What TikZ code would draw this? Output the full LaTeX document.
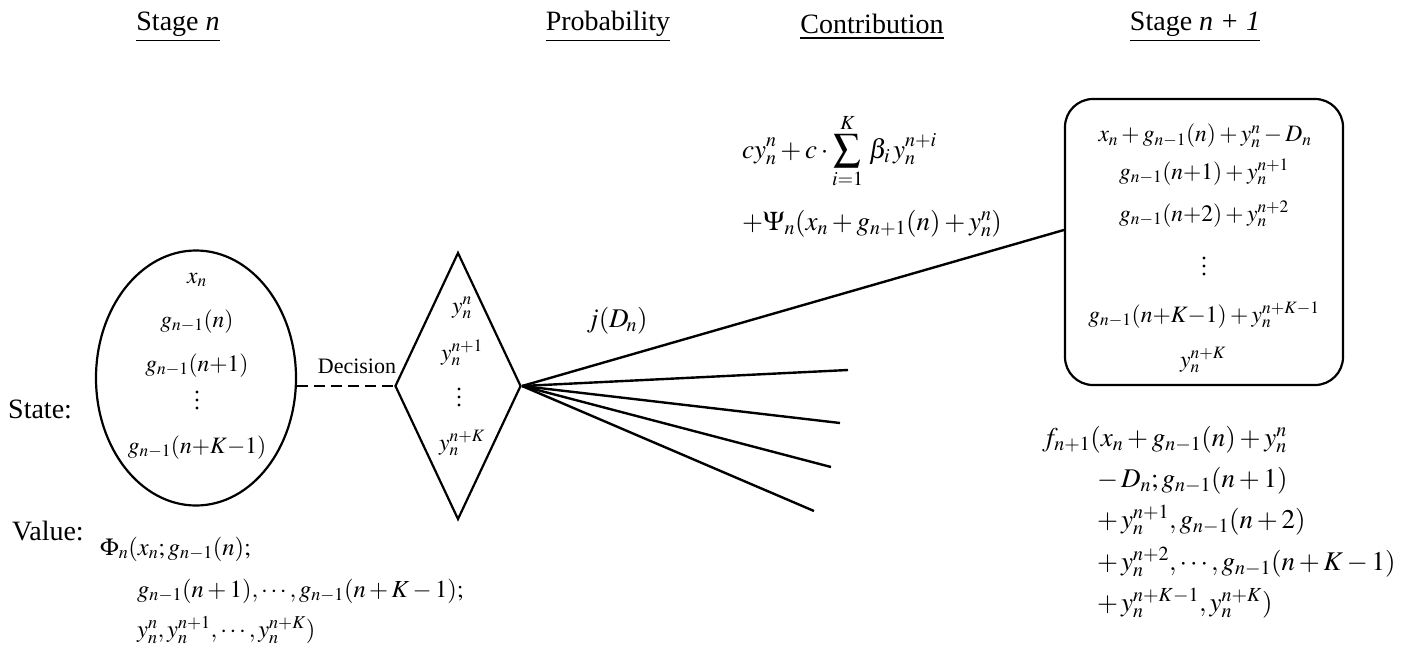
\documentclass[tikz,border=0pt]{standalone}
\usepackage{mathptmx}
\usepackage[no-math]{fontspec}
\setmainfont{Liberation Serif}
\usetikzlibrary{shapes.geometric}
\begin{document}
\begin{tikzpicture}[x=1pt,y=-1pt,
  txt/.style={font=\fontsize{28}{32}\selectfont, inner sep=0pt},
  small/.style={font=\fontsize{22}{26}\selectfont, inner sep=0pt},
  mth/.style={font=\fontsize{23.5}{27}\selectfont, inner sep=0pt},
  mthv/.style={font=\fontsize{24.5}{28}\selectfont, inner sep=0pt},
  mthb/.style={font=\fontsize{27}{31}\selectfont, inner sep=0pt},
  vd/.style={inner sep=0pt, minimum size=0pt},
  shp/.style={draw, line width=2.2pt},
  fan/.style={draw, line width=2.4pt}]
\useasboundingbox (0,0) rectangle (1415,658);
% headings
\node[txt] (h1) at (178,27) {\underline{Stage \textit{n}}};
\node[txt] (h2) at (608,27) {\underline{Probability}};
\node[txt] (h3) at (872,27) {\underline{Contribution}};
\node[txt] (h4) at (1195,27) {\underline{Stage \textit{n + 1}}};
% left labels
\node[txt, anchor=base west] (st) at (8,418) {State:};
\node[txt, anchor=base west] (va) at (12,540) {Value:};
% shapes
\node[shp, ellipse, minimum width=200pt, minimum height=255pt, inner sep=0pt] (ell) at (196,378) {};
\node[shp, diamond, minimum width=126pt, minimum height=267pt, inner sep=0pt] (dia) at (458,386) {};
\node[shp, rounded corners=28pt, minimum width=278pt, minimum height=286pt] (box) at (1204,242) {};
% ellipse contents
\node[mth, anchor=base] (e1) at (197,283) {$x_n$};
\node[mth, anchor=base] (e2) at (197,327) {$g_{n-1}(n)$};
\node[mth, anchor=base] (e3) at (197,371) {$g_{n-1}(n{+}1)$};
\node[vd] (e4) at (197,400) {};
\node[mth, anchor=base] (e5) at (197,453) {$g_{n-1}(n{+}K{-}1)$};
% diamond contents
\node[mth, anchor=base] (d1) at (462,313) {$y_n^n$};
\node[mth, anchor=base] (d2) at (462,360) {$y_n^{n+1}$};
\node[vd] (d3) at (459,397) {};
\node[mth, anchor=base] (d4) at (462,450) {$y_n^{n+K}$};
% box contents
\node[mth, anchor=base] (b1) at (1205,142) {$x_n+g_{n-1}(n)+y_n^n-D_n$};
\node[mth, anchor=base] (b2) at (1204,179) {$g_{n-1}(n{+}1)+y_n^{n+1}$};
\node[mth, anchor=base] (b3) at (1204,221) {$g_{n-1}(n{+}2)+y_n^{n+2}$};
\node[vd] (b4) at (1204,266) {};
\node[mth, anchor=base] (b5) at (1204,322) {$g_{n-1}(n{+}K{-}1)+y_n^{n+K-1}$};
\node[mth, anchor=base] (b6) at (1203,367) {$y_n^{n+K}$};
% vertical dots
\foreach \v in {e4,d3,b4}
  \foreach \d in {-8,0,8}
    \fill ([yshift=\d pt]\v) circle (1.7pt);
% decision
\draw[shp, dashed, dash pattern=on 11pt off 6pt] (ell.east |- dia.west) -- (dia.west);
\node[small, anchor=base] (dec) at (357,373) {Decision};
% fan
\coordinate (f1) at (848,370);
\coordinate (f2) at (840,423);
\coordinate (f3) at (831,467);
\coordinate (f4) at (814,511);
\draw[fan] (dia.east) -- ([yshift=12pt]box.west);
\draw[fan] (dia.east) -- (f1);
\draw[fan] (dia.east) -- (f2);
\draw[fan] (dia.east) -- (f3);
\draw[fan] (dia.east) -- (f4);
\node[mthb, anchor=base] (jd) at (617,327) {$j(D_{\!n})$};
% contribution
\node[mthb, anchor=base west] (c1) at (742,158) {$\displaystyle cy_n^n+c\cdot\sum_{i=1}^{K}\,\beta_i\, y_n^{n+i}$};
\node[mthb, anchor=base west] (c2) at (742,230) {$+\Psi_n(x_n+g_{n+1}(n)+y_n^n)$};
% value formula
\node[mthv, anchor=base west] (v1) at (100,555) {$\Phi_n(x_n;g_{n-1}(n);$};
\node[mthv, anchor=base west] (v2) at (137,597) {$g_{n-1}(n+1),\cdots,g_{n-1}(n+K-1);$};
\node[mthv, anchor=base west] (v3) at (137,637) {$y_n^n,y_n^{n+1},\cdots,y_n^{n+K})$};
% next-stage value
\node[mthb, anchor=base west] (g1) at (1042,446) {$f_{n+1}(x_n+g_{n-1}(n)+y_n^n$};
\node[mthb, anchor=base west] (g2) at (1097,487) {$-\,D_n;g_{n-1}(n+1)$};
\node[mthb, anchor=base west] (g3) at (1097,528) {$+\,y_n^{n+1},g_{n-1}(n+2)$};
\node[mthb, anchor=base west] (g4) at (1097,570) {$+\,y_n^{n+2},\cdots,g_{n-1}(n+K-1)$};
\node[mthb, anchor=base west] (g5) at (1097,611) {$+\,y_n^{n+K-1},y_n^{n+K})$};
\end{tikzpicture}
\end{document}
